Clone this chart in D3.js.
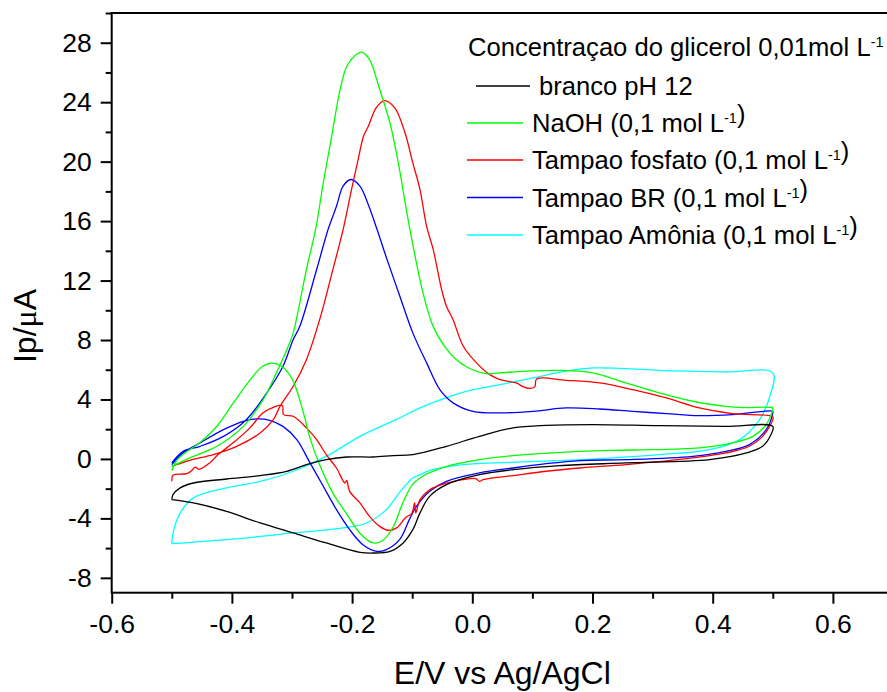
<!DOCTYPE html>
<html>
<head>
<meta charset="utf-8">
<script src="https://cdn.jsdelivr.net/npm/d3@7"></script>
<style>
  html, body { margin: 0; padding: 0; background: #fff; }
  svg { display: block; font-family: "Liberation Sans", Arial, sans-serif; }
</style>
</head>
<body>
<svg id="chart" width="887" height="692"></svg>
<script>
// Cyclic voltammograms: [E (V vs Ag/AgCl), Ip (µA)], each loop traced -0.5 V -> 0.5 V -> -0.5 V
const branco = [
  [-0.5,-2.74],[-0.498,-2.4],[-0.486,-1.95],[-0.464,-1.62],[-0.409,-1.35],[-0.353,-1.12],[-0.309,-0.83],
  [-0.276,-0.38],[-0.243,-0.05],[-0.209,0.13],[-0.165,0.13],[-0.132,0.22],[-0.099,0.29],[-0.043,0.85],
  [0.012,1.52],[0.068,2.09],[0.123,2.26],[0.2,2.31],[0.311,2.24],[0.422,2.19],[0.5,2.19],
  [0.497,1.64],[0.483,0.85],[0.456,0.4],[0.395,-0.05],[0.256,-0.27],[0.145,-0.45],[0.068,-0.72],
  [0.012,-1.06],[-0.043,-1.73],[-0.071,-2.52],[-0.087,-3.63],[-0.099,-4.76],[-0.115,-5.65],[-0.137,-6.22],
  [-0.165,-6.33],[-0.187,-6.28],[-0.243,-5.65],[-0.298,-4.98],[-0.353,-4.31],[-0.409,-3.53],[-0.464,-2.96],[-0.5,-2.74]
];
const naoh = [
  [-0.5,-0.8],[-0.492,-0.1],[-0.48,0.35],[-0.453,1.1],[-0.425,2.2],[-0.398,3.75],[-0.37,5.3],[-0.35,6.2],
  [-0.334,6.45],[-0.318,6.25],[-0.3,5.4],[-0.283,3.4],[-0.27,1.4],[-0.254,-0.4],[-0.232,-2.3],[-0.209,-3.7],
  [-0.187,-5.0],[-0.165,-5.65],[-0.148,-5.45],[-0.132,-4.6],[-0.115,-2.9],[-0.099,-1.7],[-0.08,-1.1],
  [-0.06,-0.75],[-0.043,-0.5],[0.012,-0.05],[0.068,0.22],[0.179,0.51],[0.267,0.6],[0.378,0.75],[0.433,1.08],
  [0.467,1.52],[0.489,2.31],[0.5,3.32],
  [0.5,3.43],[0.45,3.45],[0.422,3.54],[0.367,3.88],[0.311,4.44],[0.256,5.11],[0.2,5.79],[0.14,5.96],
  [0.09,5.9],[0.046,5.79],[0.023,5.74],[-0.01,6.2],[-0.03,6.8],[-0.043,7.4],[-0.065,8.9],[-0.082,11.17],
  [-0.093,13.2],[-0.105,15.7],[-0.112,17.3],[-0.123,19.9],[-0.137,22.6],[-0.154,24.85],[-0.171,26.87],
  [-0.184,27.36],[-0.196,27.1],[-0.209,26.4],[-0.22,24.85],[-0.234,21.71],[-0.248,18.57],[-0.26,15.6],
  [-0.276,12.74],[-0.298,8.48],[-0.306,7.6],[-0.326,5.79],[-0.348,3.99],[-0.381,2.19],[-0.425,0.85],
  [-0.464,0.17],[-0.5,-0.5]
];
const fosfato = [
  [-0.5,-1.5],[-0.498,-1.1],[-0.475,-0.99],[-0.466,-0.75],[-0.461,-0.55],[-0.455,-0.7],[-0.437,-0.27],
  [-0.423,0.29],[-0.398,1.08],[-0.37,2.09],[-0.348,3.1],[-0.329,3.5],[-0.316,3.59],[-0.314,2.98],
  [-0.298,2.87],[-0.276,2.09],[-0.259,1.3],[-0.243,0.29],[-0.226,-0.61],[-0.212,-1.62],[-0.209,-1.45],
  [-0.204,-2.18],[-0.187,-2.96],[-0.171,-3.86],[-0.154,-4.54],[-0.14,-4.8],[-0.126,-4.64],[-0.11,-3.9],
  [-0.101,-3.7],[-0.096,-2.96],[-0.094,-3.63],[-0.087,-2.74],[-0.071,-2.07],[-0.043,-1.62],[-0.004,-1.33],
  [0.006,-1.33],[0.012,-1.51],[0.018,-1.39],[0.068,-1.12],[0.123,-0.83],[0.179,-0.61],[0.256,-0.38],
  [0.367,0.07],[0.422,0.4],[0.461,0.85],[0.483,1.52],[0.5,2.64],
  [0.5,2.83],[0.433,3.05],[0.378,3.43],[0.323,4.1],[0.267,4.66],[0.212,5.11],[0.156,5.29],[0.107,5.38],
  [0.104,4.85],[0.095,4.75],[0.085,4.85],[0.073,5.11],[0.046,5.34],[0.029,5.67],[0.007,6.46],[-0.015,7.58],
  [-0.032,9.37],[-0.043,10.27],[-0.051,11.39],[-0.065,14.08],[-0.076,15.65],[-0.087,18.12],[-0.099,19.92],
  [-0.112,21.94],[-0.129,23.62],[-0.146,24.11],[-0.16,23.62],[-0.173,22.38],[-0.181,21.71],[-0.19,20.14],
  [-0.201,18.12],[-0.215,15.43],[-0.232,12.74],[-0.254,9.37],[-0.276,6.68],[-0.298,4.89],[-0.32,3.54],
  [-0.331,2.64],[-0.353,1.75],[-0.392,0.85],[-0.431,0.29],[-0.47,-0.09],[-0.5,-0.5]
];
const tampaoBR = [
  [-0.5,-0.38],[-0.481,0.4],[-0.453,1.08],[-0.414,1.97],[-0.381,2.53],[-0.359,2.69],[-0.337,2.6],
  [-0.315,2.19],[-0.292,1.3],[-0.27,-0.27],[-0.248,-1.84],[-0.226,-3.41],[-0.204,-4.76],[-0.182,-5.77],
  [-0.159,-6.22],[-0.143,-6.1],[-0.121,-5.43],[-0.105,-4.1],[-0.093,-3.2],[-0.071,-2.18],[-0.043,-1.51],
  [0.012,-0.94],[0.068,-0.61],[0.123,-0.32],[0.179,-0.11],[0.256,-0.05],[0.367,0.17],[0.422,0.51],
  [0.461,0.96],[0.489,1.97],[0.5,3.1],
  [0.5,3.2],[0.433,2.98],[0.378,2.91],[0.323,3.05],[0.267,3.2],[0.212,3.36],[0.156,3.43],[0.101,3.2],
  [0.046,3.1],[0.001,3.2],[-0.032,3.77],[-0.054,4.66],[-0.076,6.46],[-0.099,8.48],[-0.121,11.0],
  [-0.143,13.55],[-0.159,15.5],[-0.173,17.1],[-0.187,18.35],[-0.202,18.8],[-0.215,18.35],[-0.226,17.0],
  [-0.24,15.43],[-0.259,12.74],[-0.287,8.92],[-0.298,8.03],[-0.315,6.23],[-0.342,4.44],[-0.376,2.64],
  [-0.414,1.52],[-0.453,0.85],[-0.481,0.51],[-0.5,-0.27]
];
const amonia = [
  [-0.5,-5.7],[-0.498,-4.98],[-0.486,-3.63],[-0.464,-2.62],[-0.409,-1.95],[-0.353,-1.51],[-0.298,-0.83],
  [-0.243,0.17],[-0.187,1.52],[-0.127,2.64],[-0.087,3.43],[-0.049,4.04],[-0.01,4.55],[0.046,5.0],
  [0.101,5.45],[0.156,5.9],[0.2,6.12],[0.256,6.08],[0.311,5.96],[0.422,5.85],[0.5,5.79],
  [0.495,4.21],[0.478,2.64],[0.445,1.3],[0.395,0.63],[0.311,0.29],[0.179,-0.05],[0.068,-0.23],
  [-0.015,-0.38],[-0.071,-0.77],[-0.087,-1.06],[-0.099,-1.28],[-0.12,-2.2],[-0.143,-3.41],[-0.176,-4.31],
  [-0.215,-4.64],[-0.298,-4.98],[-0.409,-5.43],[-0.5,-5.7]
];

const xMajorTicks = [-0.6, -0.4, -0.2, 0.0, 0.2, 0.4, 0.6];
const xMinorTicks = [-0.5, -0.3, -0.1, 0.1, 0.3, 0.5];
const yMajorTicks = [-8, -4, 0, 4, 8, 12, 16, 20, 24, 28];
const yMinorTicks = [-6, -2, 2, 6, 10, 14, 18, 22, 26, 30];

const seriesNames = ["branco pH 12", "NaOH", "Tampao fosfato", "Tampao BR", "Tampao Amônia"];
const seriesData = [branco, naoh, fosfato, tampaoBR, amonia];
const seriesColors = ["#000000", "#00ff00", "#ff0000", "#0000ff", "#00ffff"];

const svg = d3.select("#chart");
const plot = { left: 111.7, right: 893, top: 13, bottom: 592.7 };

const x = d3.scaleLinear().domain([-0.6, 0.7]).range([plot.left, plot.right]);
const y = d3.scaleLinear().domain([-9, 30]).range([plot.bottom, plot.top]);

svg.append("clipPath").attr("id", "plotClip")
  .append("rect")
  .attr("x", plot.left).attr("y", plot.top)
  .attr("width", plot.right - plot.left).attr("height", plot.bottom - plot.top);

// curves, drawn in reverse legend order so black sits on top
const line = d3.line()
  .x(d => x(d[0])).y(d => y(d[1]))
  .curve(d3.curveCatmullRom.alpha(0.5));

const curves = svg.append("g").attr("clip-path", "url(#plotClip)");
[4, 3, 2, 1, 0].forEach(i => {
  curves.append("path")
    .datum(seriesData[i])
    .attr("fill", "none")
    .attr("stroke", seriesColors[i])
    .attr("stroke-width", 1.3)
    .attr("stroke-linejoin", "round")
    .attr("d", line);
});

// axes (plain hyphen-minus for negative labels)
const tickFont = 26.5;

function styleAxis(g) {
  g.select(".domain").remove();
  g.selectAll(".tick line").attr("stroke", "#000").attr("stroke-width", 2);
  g.selectAll(".tick text").attr("font-size", tickFont).attr("fill", "#000")
    .attr("font-family", "'Liberation Sans', Arial, sans-serif");
}

svg.append("g").attr("transform", `translate(0,${plot.bottom})`)
  .call(d3.axisBottom(x).tickValues(xMajorTicks).tickSize(11).tickPadding(10)
    .tickFormat(d => (Math.abs(d) < 1e-9 ? 0 : d).toFixed(1)))
  .call(styleAxis);
svg.append("g").attr("transform", `translate(0,${plot.bottom})`)
  .call(d3.axisBottom(x).tickValues(xMinorTicks).tickSize(6).tickFormat(""))
  .call(styleAxis);

svg.append("g").attr("transform", `translate(${plot.left},0)`)
  .call(d3.axisLeft(y).tickValues(yMajorTicks).tickSize(11).tickPadding(9)
    .tickFormat(d => String(d)))
  .call(styleAxis);
svg.append("g").attr("transform", `translate(${plot.left},0)`)
  .call(d3.axisLeft(y).tickValues(yMinorTicks).tickSize(6).tickFormat(""))
  .call(styleAxis);

// frame
svg.append("rect")
  .attr("x", plot.left).attr("y", plot.top)
  .attr("width", plot.right - plot.left).attr("height", plot.bottom - plot.top)
  .attr("fill", "none").attr("stroke", "#000").attr("stroke-width", 2);

// axis titles
svg.append("text")
  .attr("x", (plot.left + plot.right) / 2).attr("y", 684)
  .attr("text-anchor", "middle").attr("font-size", 32).attr("fill", "#000")
  .text("E/V vs Ag/AgCl");

const yTitle = svg.append("text")
  .attr("transform", "translate(36,326) rotate(-90)")
  .attr("text-anchor", "middle").attr("font-size", 32).attr("fill", "#000");
yTitle.append("tspan").text("Ip/");
yTitle.append("tspan").attr("font-family", "'Liberation Serif', 'DejaVu Serif', serif").text("μ");
yTitle.append("tspan").text("A");

// legend
const legendFont = 25.6;
function addSuperText(sel, parts) {
  parts.forEach(p => {
    if (p.sup) {
      sel.append("tspan").attr("font-size", 14.5).attr("dy", -9).text(p.t);
      sel.append("tspan").attr("dy", 9).text("");
    } else {
      sel.append("tspan").text(p.t);
    }
  });
}

const legend = svg.append("g").attr("font-size", legendFont).attr("fill", "#000");
addSuperText(legend.append("text").attr("x", 468).attr("y", 56),
  [{ t: "Concentraçao do glicerol 0,01mol L" }, { t: "-1", sup: true }]);

const legendRows = [
  { parts: [{ t: "branco pH 12" }], y: 86, x1: 476, x2: 530, tx: 539 },
  { parts: [{ t: "NaOH (0,1 mol L" }, { t: "-1", sup: true }, { t: ")" }], y: 123, x1: 467, x2: 523, tx: 532 },
  { parts: [{ t: "Tampao fosfato (0,1 mol L" }, { t: "-1", sup: true }, { t: ")" }], y: 160, x1: 467, x2: 523, tx: 532 },
  { parts: [{ t: "Tampao BR (0,1 mol L" }, { t: "-1", sup: true }, { t: ")" }], y: 197.5, x1: 467, x2: 523, tx: 532 },
  { parts: [{ t: "Tampao Amônia (0,1 mol L" }, { t: "-1", sup: true }, { t: ")" }], y: 235, x1: 467, x2: 523, tx: 532 }
];
legendRows.forEach((r, i) => {
  legend.append("line")
    .attr("x1", r.x1).attr("x2", r.x2).attr("y1", r.y).attr("y2", r.y)
    .attr("stroke", seriesColors[i]).attr("stroke-width", 1.3);
  addSuperText(legend.append("text").attr("x", r.tx).attr("y", r.y + 9), r.parts);
});
</script>
</body>
</html>
